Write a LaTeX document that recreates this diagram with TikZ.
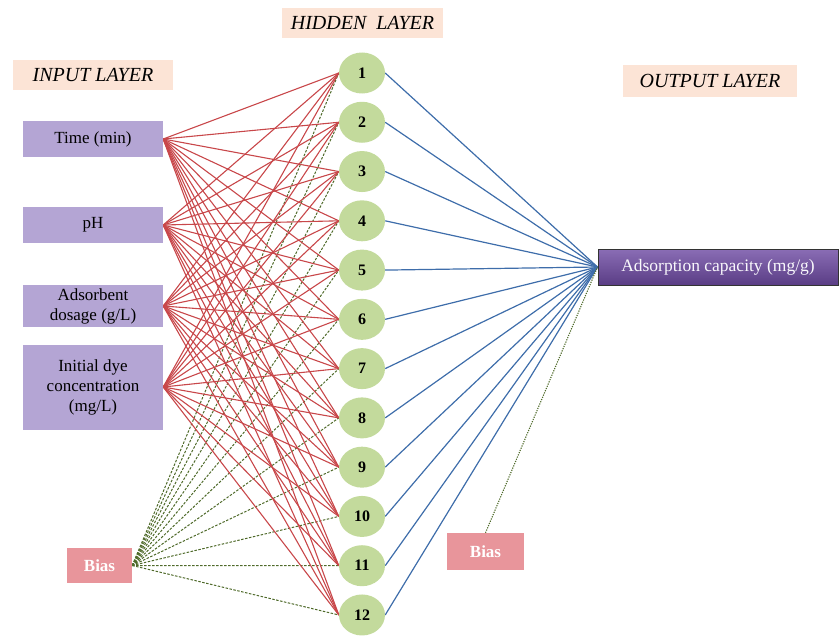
\documentclass[tikz,border=0pt]{standalone}
\usepackage{fontspec}
\setmainfont{Liberation Serif}
\usetikzlibrary{shapes.geometric}
\definecolor{peach}{HTML}{FCE4D6}
\definecolor{lav}{HTML}{B4A5D4}
\definecolor{hidg}{HTML}{C3DA9C}
\definecolor{redl}{HTML}{C8474A}
\definecolor{bluel}{HTML}{3E6DAA}
\definecolor{greenl}{HTML}{4F6A2A}
\definecolor{biasc}{HTML}{E8959B}
\definecolor{outtop}{HTML}{8A6DB5}
\definecolor{outbot}{HTML}{5A3D85}
\pgfdeclarelayer{background}
\pgfsetlayers{background,main}
\tikzset{
  titlebox/.style={fill=peach, inner sep=0pt, font=\fontsize{20}{22}\selectfont\itshape},
  inbox/.style={fill=lav, inner sep=0pt, align=center, minimum width=140pt, font=\fontsize{17}{20}\selectfont},
  hid/.style={ellipse, fill=hidg, inner sep=0pt, minimum width=46pt, minimum height=41pt, font=\fontsize{16}{18}\selectfont\bfseries},
  biasbox/.style={fill=biasc, inner sep=0pt, text=white, font=\fontsize{17}{19}\selectfont\bfseries},
  outbox/.style={draw=black!80, line width=1pt, top color=outtop, bottom color=outbot, text=white!92!lav, inner sep=0pt, minimum width=240pt, minimum height=36pt, font=\fontsize{17.5}{20}\selectfont},
  redline/.style={draw=redl, line width=1.1pt},
  blueline/.style={draw=bluel, line width=1.2pt},
  greenline/.style={draw=greenl, line width=1pt, dash pattern=on 2.5pt off 1.5pt},
  greendot/.style={draw=greenl, line width=1.1pt, dash pattern=on 1.2pt off 1.2pt}
}
\begin{document}
\begin{tikzpicture}[x=1pt,y=-1pt]
\useasboundingbox (0,0) rectangle (840,642);
% titles
\node[titlebox, minimum width=160pt, minimum height=30pt] (tin) at (93,75) {INPUT LAYER};
\node[titlebox, minimum width=161pt, minimum height=30pt] (thid) at (362.5,23) {HIDDEN\ \ LAYER};
\node[titlebox, minimum width=174pt, minimum height=32pt] (tout) at (710,81) {OUTPUT LAYER};
% input boxes
\node[inbox, minimum height=36pt] (i1) at (93,139) {Time (min)};
\node[inbox, minimum height=36pt] (i2) at (93,225) {pH};
\node[inbox, minimum height=42pt] (i3) at (93,306) {Adsorbent\\dosage (g/L)};
\node[inbox, minimum height=85pt] (i4) at (93,387) {Initial dye\\concentration\\(mg/L)};
% hidden nodes
\foreach \i in {1,...,12} {
  \node[hid] (h\i) at (362,{73+49.27*(\i-1)}) {\i};
}
% output
\node[outbox] (out) at (718,267) {Adsorption capacity (mg/g)};
% bias
\node[biasbox, minimum width=65pt, minimum height=35pt] (b1) at (99.5,565.5) {Bias};
\node[biasbox, minimum width=77pt, minimum height=37pt] (b2) at (485.5,551.5) {Bias};
% connections
\begin{pgfonlayer}{background}
\foreach \i in {1,...,12} {
  \draw[greenline] (b1.east) -- (h\i.west);
}
\foreach \a in {i1,i2,i3,i4} {
  \foreach \i in {1,...,12} {
    \draw[redline] (\a.east) -- (h\i.west);
  }
}
\foreach \i in {1,...,12} {
  \draw[blueline] (h\i.east) -- (out.west);
}
\draw[greendot] (b2.north) -- (out.west);
\end{pgfonlayer}
\end{tikzpicture}
\end{document}
